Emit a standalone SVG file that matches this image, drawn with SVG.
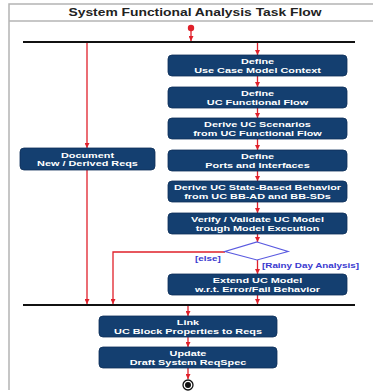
<svg xmlns="http://www.w3.org/2000/svg" width="373" height="392" viewBox="0 0 373 392">
  <defs>
    <marker id="arr" viewBox="0 0 10 10" refX="10" refY="5" markerWidth="5" markerHeight="5" orient="auto" markerUnits="userSpaceOnUse">
      <path d="M0,0 L10,5 L0,10 z" fill="#e0202a"/>
    </marker>
    <style>
      .frame { fill: none; stroke: #b4b4b4; stroke-width: 1.5; }
      .bar { stroke: #111; stroke-width: 2; }
      .act { fill: #143f70; stroke: #0c2f58; stroke-width: 0.8; }
      .lbl { font-family: "Liberation Sans", Arial, sans-serif; font-weight: bold; font-size: 7.5px; fill: #ffffff; text-anchor: middle; }
      .title { font-family: "Liberation Sans", Arial, sans-serif; font-weight: bold; font-size: 10.5px; fill: #222; text-anchor: middle; }
      .guard { font-family: "Liberation Sans", Arial, sans-serif; font-weight: bold; font-size: 6.8px; fill: #3a3ad0; }
      .flow { fill: none; stroke: #e0202a; stroke-width: 1.3; }
      .dec { fill: #ffffff; stroke: #5a5ae0; stroke-width: 1.2; }
    </style>
  </defs>

  <rect width="373" height="392" fill="#ffffff"/>

  <!-- activity frame and title compartment -->
  <path class="frame" d="M373,4 H9 V390"/>
  <line class="frame" x1="9" y1="21" x2="373" y2="21"/>
  <text class="title" transform="translate(195,16) scale(1.32,1)">System Functional Analysis Task Flow</text>

  <!-- connectors -->
  <g id="connectors">
    <line class="flow" x1="191" y1="30" x2="191" y2="41" marker-end="url(#arr)"/>
    <line class="flow" x1="257.5" y1="43" x2="257.5" y2="55" marker-end="url(#arr)"/>
    <line class="flow" x1="87" y1="43" x2="87" y2="148" marker-end="url(#arr)"/>
    <line class="flow" x1="257.5" y1="76" x2="257.5" y2="87" marker-end="url(#arr)"/>
    <line class="flow" x1="257.5" y1="108" x2="257.5" y2="118" marker-end="url(#arr)"/>
    <line class="flow" x1="257.5" y1="139" x2="257.5" y2="150" marker-end="url(#arr)"/>
    <line class="flow" x1="257.5" y1="171" x2="257.5" y2="181" marker-end="url(#arr)"/>
    <line class="flow" x1="257.5" y1="202" x2="257.5" y2="213" marker-end="url(#arr)"/>
    <line class="flow" x1="257.5" y1="234" x2="257.5" y2="242" marker-end="url(#arr)"/>
    <line class="flow" x1="257.5" y1="260" x2="257.5" y2="274" marker-end="url(#arr)"/>
    <polyline class="flow" points="225,252 113,252 113,304" marker-end="url(#arr)"/>
    <line class="flow" x1="87" y1="170" x2="87" y2="304" marker-end="url(#arr)"/>
    <line class="flow" x1="257.5" y1="295" x2="257.5" y2="304" marker-end="url(#arr)"/>
    <line class="flow" x1="188" y1="306" x2="188" y2="316" marker-end="url(#arr)"/>
    <line class="flow" x1="188" y1="337" x2="188" y2="347" marker-end="url(#arr)"/>
    <line class="flow" x1="188" y1="368" x2="188" y2="379" marker-end="url(#arr)"/>
  </g>

  <!-- initial node -->
  <g id="start">
    <circle cx="191" cy="28" r="3.2" fill="#e0202a"/>
  </g>

  <!-- fork and join bars -->
  <g id="fork"><line class="bar" x1="23" y1="42" x2="355" y2="42"/></g>
  <g id="join"><line class="bar" x1="23" y1="305" x2="355" y2="305" stroke="#333"/></g>

  <g id="define-context">
    <rect class="act" x="168" y="55" width="179" height="21" rx="4"/>
    <text class="lbl" transform="translate(257.5,64) scale(1.45,1)">Define</text>
    <text class="lbl" transform="translate(257.5,72.5) scale(1.45,1)">Use Case Model Context</text>
  </g>

  <g id="define-flow">
    <rect class="act" x="168" y="87" width="179" height="21" rx="4"/>
    <text class="lbl" transform="translate(257.5,96) scale(1.45,1)">Define</text>
    <text class="lbl" transform="translate(257.5,104.5) scale(1.45,1)">UC Functional Flow</text>
  </g>

  <g id="derive-scenarios">
    <rect class="act" x="168" y="118" width="179" height="21" rx="4"/>
    <text class="lbl" transform="translate(257.5,127) scale(1.45,1)">Derive UC Scenarios</text>
    <text class="lbl" transform="translate(257.5,135.5) scale(1.45,1)">from UC Functional Flow</text>
  </g>

  <g id="define-ports">
    <rect class="act" x="168" y="150" width="179" height="21" rx="4"/>
    <text class="lbl" transform="translate(257.5,159) scale(1.45,1)">Define</text>
    <text class="lbl" transform="translate(257.5,167.5) scale(1.45,1)">Ports and Interfaces</text>
  </g>

  <g id="derive-behavior">
    <rect class="act" x="168" y="181" width="179" height="21" rx="4"/>
    <text class="lbl" transform="translate(257.5,190) scale(1.45,1)">Derive UC State-Based Behavior</text>
    <text class="lbl" transform="translate(257.5,198.5) scale(1.45,1)">from UC BB-AD and BB-SDs</text>
  </g>

  <g id="verify-model">
    <rect class="act" x="168" y="213" width="179" height="21" rx="4"/>
    <text class="lbl" transform="translate(257.5,222) scale(1.45,1)">Verify / Validate UC Model</text>
    <text class="lbl" transform="translate(257.5,230.5) scale(1.45,1)">trough Model Execution</text>
  </g>

  <g id="decision">
    <polygon class="dec" points="257,242 288,251.5 257,260 225,251.5"/>
    <text class="guard" transform="translate(195,261) scale(1.45,1)">[else]</text>
    <text class="guard" transform="translate(262,268) scale(1.45,1)">[Rainy Day Analysis]</text>
  </g>

  <g id="extend-model">
    <rect class="act" x="168" y="274" width="179" height="21" rx="4"/>
    <text class="lbl" transform="translate(257.5,283) scale(1.45,1)">Extend UC Model</text>
    <text class="lbl" transform="translate(257.5,291.5) scale(1.45,1)">w.r.t. Error/Fail Behavior</text>
  </g>

  <g id="document-reqs">
    <rect class="act" x="20" y="148" width="135" height="22" rx="4"/>
    <text class="lbl" transform="translate(87.5,157.5) scale(1.45,1)">Document</text>
    <text class="lbl" transform="translate(87.5,166) scale(1.45,1)">New / Derived Reqs</text>
  </g>

  <g id="link-props">
    <rect class="act" x="99" y="316" width="178" height="21" rx="4"/>
    <text class="lbl" transform="translate(188,325) scale(1.45,1)">Link</text>
    <text class="lbl" transform="translate(188,333.5) scale(1.45,1)">UC Block Properties to Reqs</text>
  </g>

  <g id="update-spec">
    <rect class="act" x="99" y="347" width="178" height="21" rx="4"/>
    <text class="lbl" transform="translate(188,356) scale(1.45,1)">Update</text>
    <text class="lbl" transform="translate(188,364.5) scale(1.45,1)">Draft System ReqSpec</text>
  </g>

  <!-- final node -->
  <g id="end">
    <circle cx="188" cy="385" r="5" fill="#ffffff" stroke="#111" stroke-width="1.3"/>
    <circle cx="188" cy="385" r="3" fill="#111"/>
  </g>
</svg>
